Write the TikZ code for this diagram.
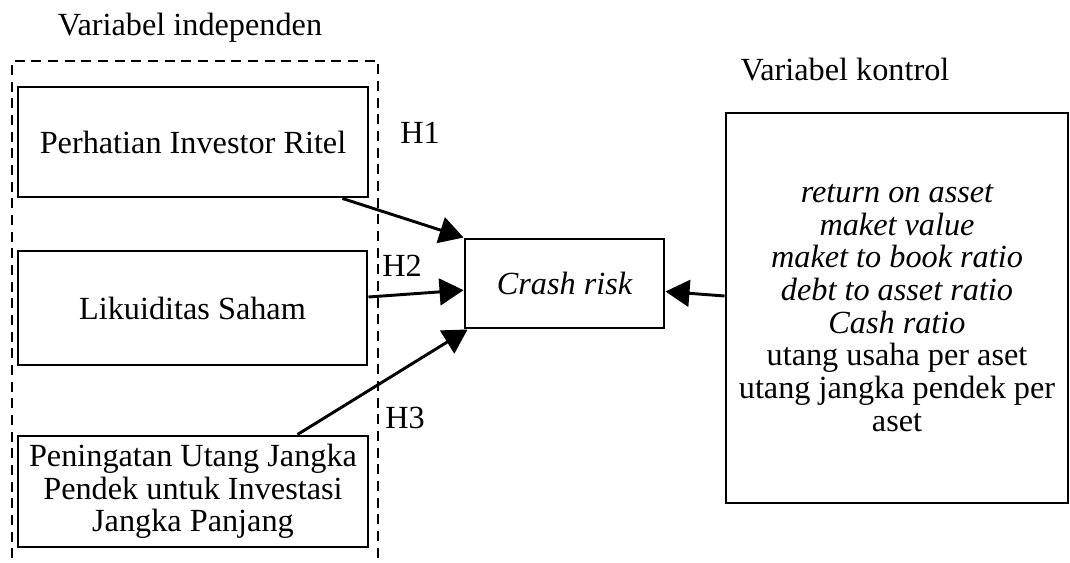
\documentclass[tikz,border=0pt]{standalone}
\usepackage{fontspec}
\setmainfont{Liberation Serif}
\usetikzlibrary{arrows.meta,calc}
\begin{document}
\begin{tikzpicture}[x=0.75pt,y=-0.75pt,
  font=\fontsize{24.2}{24.5}\selectfont,
  box/.style={draw,line width=2.2pt,rectangle,inner sep=0pt,align=center},
  conn/.style={line width=2.2pt,-{Triangle[length=18pt,width=20pt]}},
  lbl/.style={inner sep=0pt,anchor=center}]
\useasboundingbox (0,0) rectangle (1070,563);
% dashed group frame
\draw[line width=2pt,dash pattern=on 7.5pt off 5pt] (12,575) -- (12,61) -- (378,61) -- (378,575);
\node[lbl] (vi) at (190,28) {Variabel independen};
\node[lbl] (vk) at (845,70) {Variabel kontrol};
\node[box,minimum width=262.5pt,minimum height=82.5pt] (b1) at (193,142) {Perhatian Investor Ritel};
\node[box,minimum width=261.75pt,minimum height=85.5pt] (b2) at (192.5,308) {Likuiditas Saham};
\node[box,minimum width=262.5pt,minimum height=83.25pt] (b3) at (193,491.5) {Peningatan Utang Jangka\\Pendek untuk Investasi\\Jangka Panjang};
\node[box,minimum width=149.25pt,minimum height=66.75pt] (cr) at (564.5,283.5) {\itshape Crash risk};
\node[box,minimum width=256.5pt,minimum height=292.5pt] (ctl) at (897,308) {\itshape return on asset\\\itshape maket value\\\itshape maket to book ratio\\\itshape debt to asset ratio\\\itshape Cash ratio\\utang usaha per aset\\utang jangka pendek per\\aset};
\node[lbl] (h1) at (420,133) {H1};
\node[lbl] (h2) at (402,266) {H2};
\node[lbl] (h3) at (405,418) {H3};
\draw[conn] ([xshift=-20.25pt]b1.south east) -- (cr.north west);
\draw[conn] ([yshift=8.25pt]b2.east) -- ([yshift=-5pt]cr.west);
\draw[conn] ([xshift=-54pt]b3.north east) -- ([xshift=3pt]cr.south west);
\draw[conn] ([yshift=9pt]ctl.west) -- ([yshift=-6pt]cr.east);
\end{tikzpicture}
\end{document}
